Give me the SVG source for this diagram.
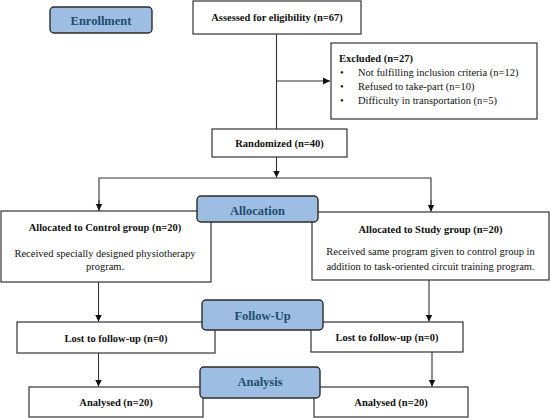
<svg xmlns="http://www.w3.org/2000/svg" width="551" height="418" viewBox="0 0 551 418">
<style>
.box{fill:#fff;stroke:#333;stroke-width:1.2}
.lbl{fill:#9dbde3;stroke:#2b2b2b;stroke-width:1.4}
text{font-family:'Liberation Serif','Times New Roman','DejaVu Serif',serif}
.lt{font-weight:bold;font-size:12.5px;fill:#1f4d6b;text-anchor:middle}
.bt{font-weight:bold;font-size:10.5px;fill:#111;text-anchor:middle}
.t{font-size:10.5px;fill:#111}
.c{text-anchor:middle}
.ln{fill:none;stroke:#333;stroke-width:1.1}
</style>
<defs>
<marker id="ah" markerWidth="8" markerHeight="8" refX="7" refY="4" orient="auto" markerUnits="userSpaceOnUse">
<path d="M0,0.5 L7,4 L0,7.5 Z" fill="#111"/>
</marker>
</defs>
<g id="connectors">
<line class="ln" x1="276.5" y1="34" x2="276.5" y2="129"/>
<line class="ln" x1="276.5" y1="81" x2="330" y2="81" marker-end="url(#ah)"/>
<line class="ln" x1="276.5" y1="157" x2="276.5" y2="177.5" marker-end="url(#ah)"/>
<polyline class="ln" points="99,211 99,178 431,178 431,211"/>
<line class="ln" x1="99" y1="200" x2="99" y2="210.5" marker-end="url(#ah)"/>
<line class="ln" x1="431" y1="200" x2="431" y2="211.5" marker-end="url(#ah)"/>
<line class="ln" x1="98.5" y1="282" x2="98.5" y2="321.5" marker-end="url(#ah)"/>
<line class="ln" x1="429" y1="280" x2="429" y2="321.5" marker-end="url(#ah)"/>
<line class="ln" x1="98.5" y1="353" x2="98.5" y2="386.5" marker-end="url(#ah)"/>
<line class="ln" x1="432" y1="352" x2="432" y2="386.5" marker-end="url(#ah)"/>
</g>
<g id="enrollment"><rect class="lbl" x="50" y="7" width="102" height="26" rx="4"/><text class="lt" x="101" y="25">Enrollment</text></g>
<g id="assessed"><rect class="box" x="193" y="1" width="168" height="33"/><text class="bt" x="277" y="21">Assessed for eligibility (n=67)</text></g>
<g id="excluded"><rect class="box" x="331" y="43" width="206" height="76"/>
<text class="t" x="339" y="62" font-weight="bold">Excluded (n=27)</text>
<text class="t" x="340" y="76">•</text><text class="t" x="358" y="76">Not fulfilling inclusion criteria (n=12)</text>
<text class="t" x="340" y="90">•</text><text class="t" x="358" y="90">Refused to take-part (n=10)</text>
<text class="t" x="340" y="104">•</text><text class="t" x="358" y="104">Difficulty in transportation (n=5)</text>
</g>
<g id="randomized"><rect class="box" x="212" y="129" width="135" height="28"/><text class="bt" x="279.5" y="147">Randomized (n=40)</text></g>
<g id="control"><rect class="box" x="1" y="211" width="210" height="71"/>
<text class="bt" x="105" y="231">Allocated to Control group (n=20)</text>
<text class="t c" x="105" y="257">Received specially designed physiotherapy</text>
<text class="t c" x="105" y="270">program.</text></g>
<g id="study"><rect class="box" x="312" y="212" width="237" height="68"/>
<text class="bt" x="430.5" y="233">Allocated to Study group (n=20)</text>
<text class="t c" x="430.5" y="255">Received same program given to control group in</text>
<text class="t c" x="430.5" y="270">addition to task-oriented circuit training program.</text></g>
<g id="allocation"><rect class="lbl" x="197" y="196" width="121" height="26" rx="4"/><text class="lt" x="257.5" y="214.5">Allocation</text></g>
<g id="lost-control"><rect class="box" x="17" y="322" width="198" height="31"/><text class="bt" x="116" y="342">Lost to follow-up (n=0)</text></g>
<g id="lost-study"><rect class="box" x="311" y="322" width="152" height="30"/><text class="bt" x="387" y="341">Lost to follow-up (n=0)</text></g>
<g id="followup"><rect class="lbl" x="202" y="300" width="121" height="30" rx="4"/><text class="lt" x="262.5" y="319.5">Follow-Up</text></g>
<g id="analysed-control"><rect class="box" x="29" y="387" width="174" height="30"/><text class="bt" x="116" y="406">Analysed (n=20)</text></g>
<g id="analysed-study"><rect class="box" x="314" y="387" width="154" height="30"/><text class="bt" x="391" y="406">Analysed (n=20)</text></g>
<g id="analysis"><rect class="lbl" x="200" y="367" width="120" height="31" rx="4"/><text class="lt" x="260" y="385.5">Analysis</text></g>
</svg>
